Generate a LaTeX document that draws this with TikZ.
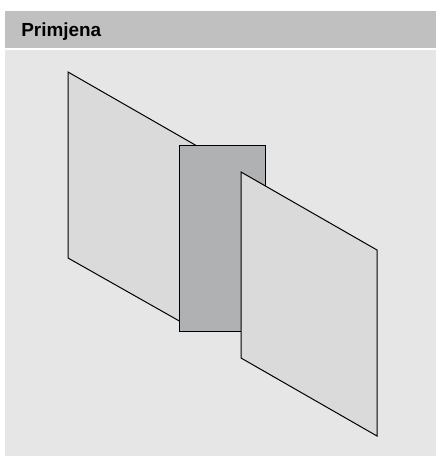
\documentclass[tikz,border=0pt]{standalone}
\usepackage{fontspec}
\setmainfont{Liberation Sans}
\definecolor{panelbg}{HTML}{E6E6E6}
\definecolor{headbg}{HTML}{C0C0C0}
\definecolor{planefill}{HTML}{DADADA}
\definecolor{rectfill}{HTML}{B0B1B2}
\tikzset{
  sheet/.style={draw=black,line width=0.75pt,line join=miter,fill=planefill},
  midsheet/.style={sheet,line width=0.7pt,fill=rectfill},
  headtext/.style={anchor=base west,inner sep=0pt,font=\bfseries\fontsize{14.2}{17}\selectfont,text=black}
}
\begin{document}
\begin{tikzpicture}[x=0.75pt,y=-0.75pt]
\useasboundingbox (0,0) rectangle (436,456);
\fill[white] (0,0) rectangle (436,456);
\fill[headbg] (5,11) rectangle (436,48.5);
\fill[panelbg] (5,50) rectangle (436,456);
\node[headtext] (title) at (21,36.5) {Primjena};
\path[sheet] (68,72) -- (197,146) -- (197,331) -- (68,258) -- cycle;
\path[midsheet] (179.5,145.5) rectangle (265.5,331.5);
\path[sheet] (241,172) -- (377,250) -- (377,436) -- (241,358) -- cycle;
\end{tikzpicture}
\end{document}
